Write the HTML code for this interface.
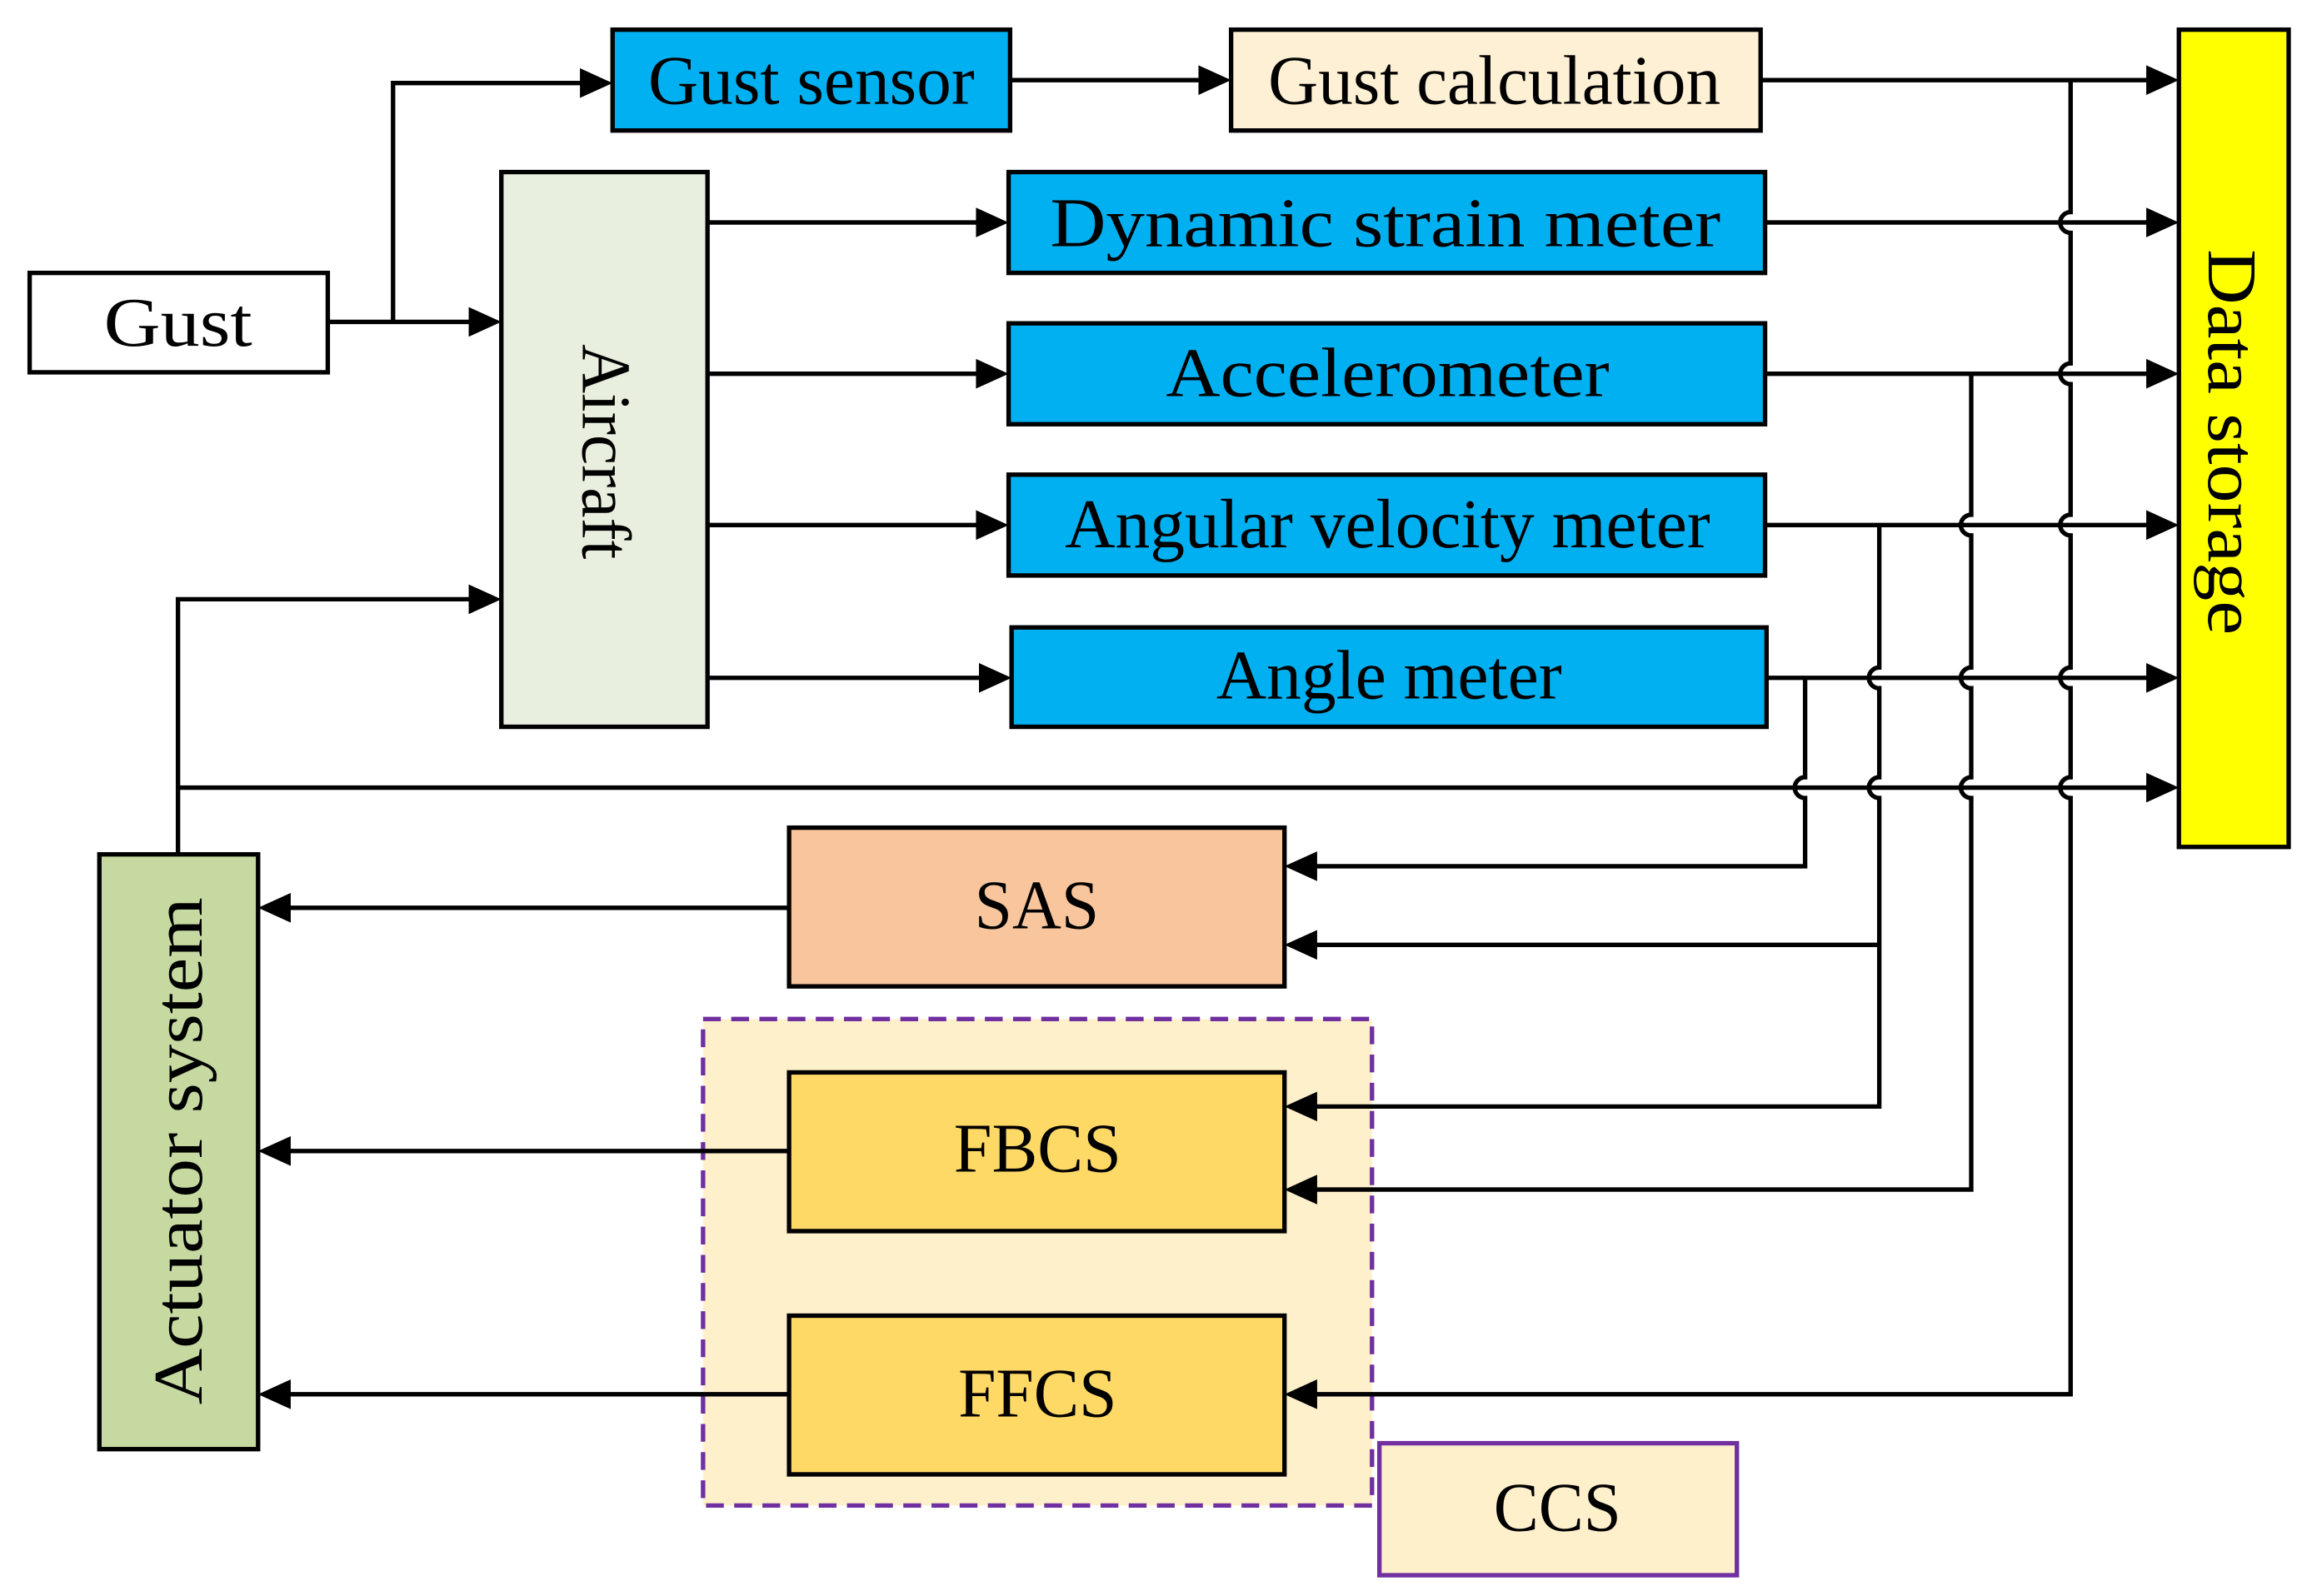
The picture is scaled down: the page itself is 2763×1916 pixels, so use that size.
<!DOCTYPE html>
<html><head><meta charset="utf-8"><style>
html,body{margin:0;padding:0;background:#fff;}
svg{display:block;}
text{font-family:"Liberation Serif",serif;fill:#000;}
</style></head><body>
<svg width="2763" height="1916" viewBox="0 0 1552 1076" preserveAspectRatio="none" xmlns="http://www.w3.org/2000/svg">
<g stroke="#000" stroke-width="3" fill="none">
<rect x="474" y="687" width="451" height="328" fill="#fff0cc" stroke="#7030a0" stroke-dasharray="12,7"/>
<path d="M221 217 H318"/>
<path d="M265 217 V56 H393"/>
<path d="M681 54 H810"/>
<path d="M1187 54 H1449"/>
<path d="M477 150 H660"/><path d="M477 252 H660"/><path d="M477 354 H660"/><path d="M477 457 H662"/>
<path d="M1190 150 H1449"/><path d="M1190 252 H1449"/><path d="M1190 354 H1449"/><path d="M1191 457 H1449"/>
<path d="M120 576 V404 H318"/>
<path d="M120 531 H1449"/>
<path d="M1396 54 V143 A7 7 0 0 0 1396 157 V245 A7 7 0 0 0 1396 259 V347 A7 7 0 0 0 1396 361 V450 A7 7 0 0 0 1396 464 V524 A7 7 0 0 0 1396 538 V940 H886"/>
<path d="M1329 252 V347 A7 7 0 0 0 1329 361 V450 A7 7 0 0 0 1329 464 V524 A7 7 0 0 0 1329 538 V802 H886"/>
<path d="M1267 354 V450 A7 7 0 0 0 1267 464 V524 A7 7 0 0 0 1267 538 V746 H886"/>
<path d="M1267 637 H886"/>
<path d="M1217 457 V524 A7 7 0 0 0 1217 538 V584 H886"/>
<path d="M532 612 H194"/><path d="M532 776 H194"/><path d="M532 940 H194"/>
</g>
<g fill="#000">
<polygon points="338,217 316,207 316,227"/>
<polygon points="413,56 391,46 391,66"/>
<polygon points="830,54 808,44 808,64"/>
<polygon points="338,404 316,394 316,414"/>
<polygon points="680,150 658,140 658,160"/>
<polygon points="680,252 658,242 658,262"/>
<polygon points="680,354 658,344 658,364"/>
<polygon points="682,457 660,447 660,467"/>
<polygon points="1469,54 1447,44 1447,64"/>
<polygon points="1469,150 1447,140 1447,160"/>
<polygon points="1469,252 1447,242 1447,262"/>
<polygon points="1469,354 1447,344 1447,364"/>
<polygon points="1469,457 1447,447 1447,467"/>
<polygon points="1469,531 1447,521 1447,541"/>
<polygon points="866,584 888,574 888,594"/>
<polygon points="866,637 888,627 888,647"/>
<polygon points="866,746 888,736 888,756"/>
<polygon points="866,802 888,792 888,812"/>
<polygon points="866,940 888,930 888,950"/>
<polygon points="174,612 196,602 196,622"/>
<polygon points="174,776 196,766 196,786"/>
<polygon points="174,940 196,930 196,950"/>
</g>
<g stroke="#000" stroke-width="3">
<rect x="20" y="184" width="201" height="67" fill="#fff"/>
<rect x="413" y="20" width="268" height="68" fill="#00b0f0"/>
<rect x="830" y="20" width="357" height="68" fill="#fdf0d5"/>
<rect x="338" y="116" width="139" height="374" fill="#e9efdf"/>
<rect x="680" y="116" width="510" height="68" fill="#00b0f0"/>
<rect x="680" y="218" width="510" height="68" fill="#00b0f0"/>
<rect x="680" y="320" width="510" height="68" fill="#00b0f0"/>
<rect x="682" y="423" width="509" height="67" fill="#00b0f0"/>
<rect x="1469" y="20" width="74" height="551" fill="#ffff00"/>
<rect x="67" y="576" width="107" height="401" fill="#c5d9a0"/>
<rect x="532" y="558" width="334" height="107" fill="#f8c59c"/>
<rect x="532" y="723" width="334" height="107" fill="#ffd966"/>
<rect x="532" y="887" width="334" height="107" fill="#ffd966"/>
<rect x="930" y="973" width="241" height="89" fill="#fff0cc" stroke="#7030a0"/>
</g>
<g font-size="47" lengthAdjust="spacingAndGlyphs">
<text x="70" y="233" textLength="100" lengthAdjust="spacingAndGlyphs">Gust</text>
<text x="437" y="70" textLength="220" lengthAdjust="spacingAndGlyphs">Gust sensor</text>
<text x="855" y="70" textLength="305" lengthAdjust="spacingAndGlyphs">Gust calculation</text>
<text x="708" y="166" textLength="452" lengthAdjust="spacingAndGlyphs">Dynamic strain meter</text>
<text x="786" y="267" textLength="299" lengthAdjust="spacingAndGlyphs">Accelerometer</text>
<text x="718" y="369" textLength="435" lengthAdjust="spacingAndGlyphs">Angular velocity meter</text>
<text x="820" y="471" textLength="233" lengthAdjust="spacingAndGlyphs">Angle meter</text>
<text x="657" y="626" textLength="84" lengthAdjust="spacingAndGlyphs">SAS</text>
<text x="643" y="790" textLength="113" lengthAdjust="spacingAndGlyphs">FBCS</text>
<text x="646" y="955" textLength="107" lengthAdjust="spacingAndGlyphs">FFCS</text>
<text x="1007" y="1032" textLength="86" lengthAdjust="spacingAndGlyphs">CCS</text>
<text transform="translate(393,232) rotate(90)" textLength="145" lengthAdjust="spacingAndGlyphs">Aircraft</text>
<text transform="translate(1489,168) rotate(90)" textLength="260" lengthAdjust="spacingAndGlyphs">Data storage</text>
<text transform="translate(136,947) rotate(-90)" textLength="342" lengthAdjust="spacingAndGlyphs">Actuator system</text>
</g>
</svg>
</body></html>
